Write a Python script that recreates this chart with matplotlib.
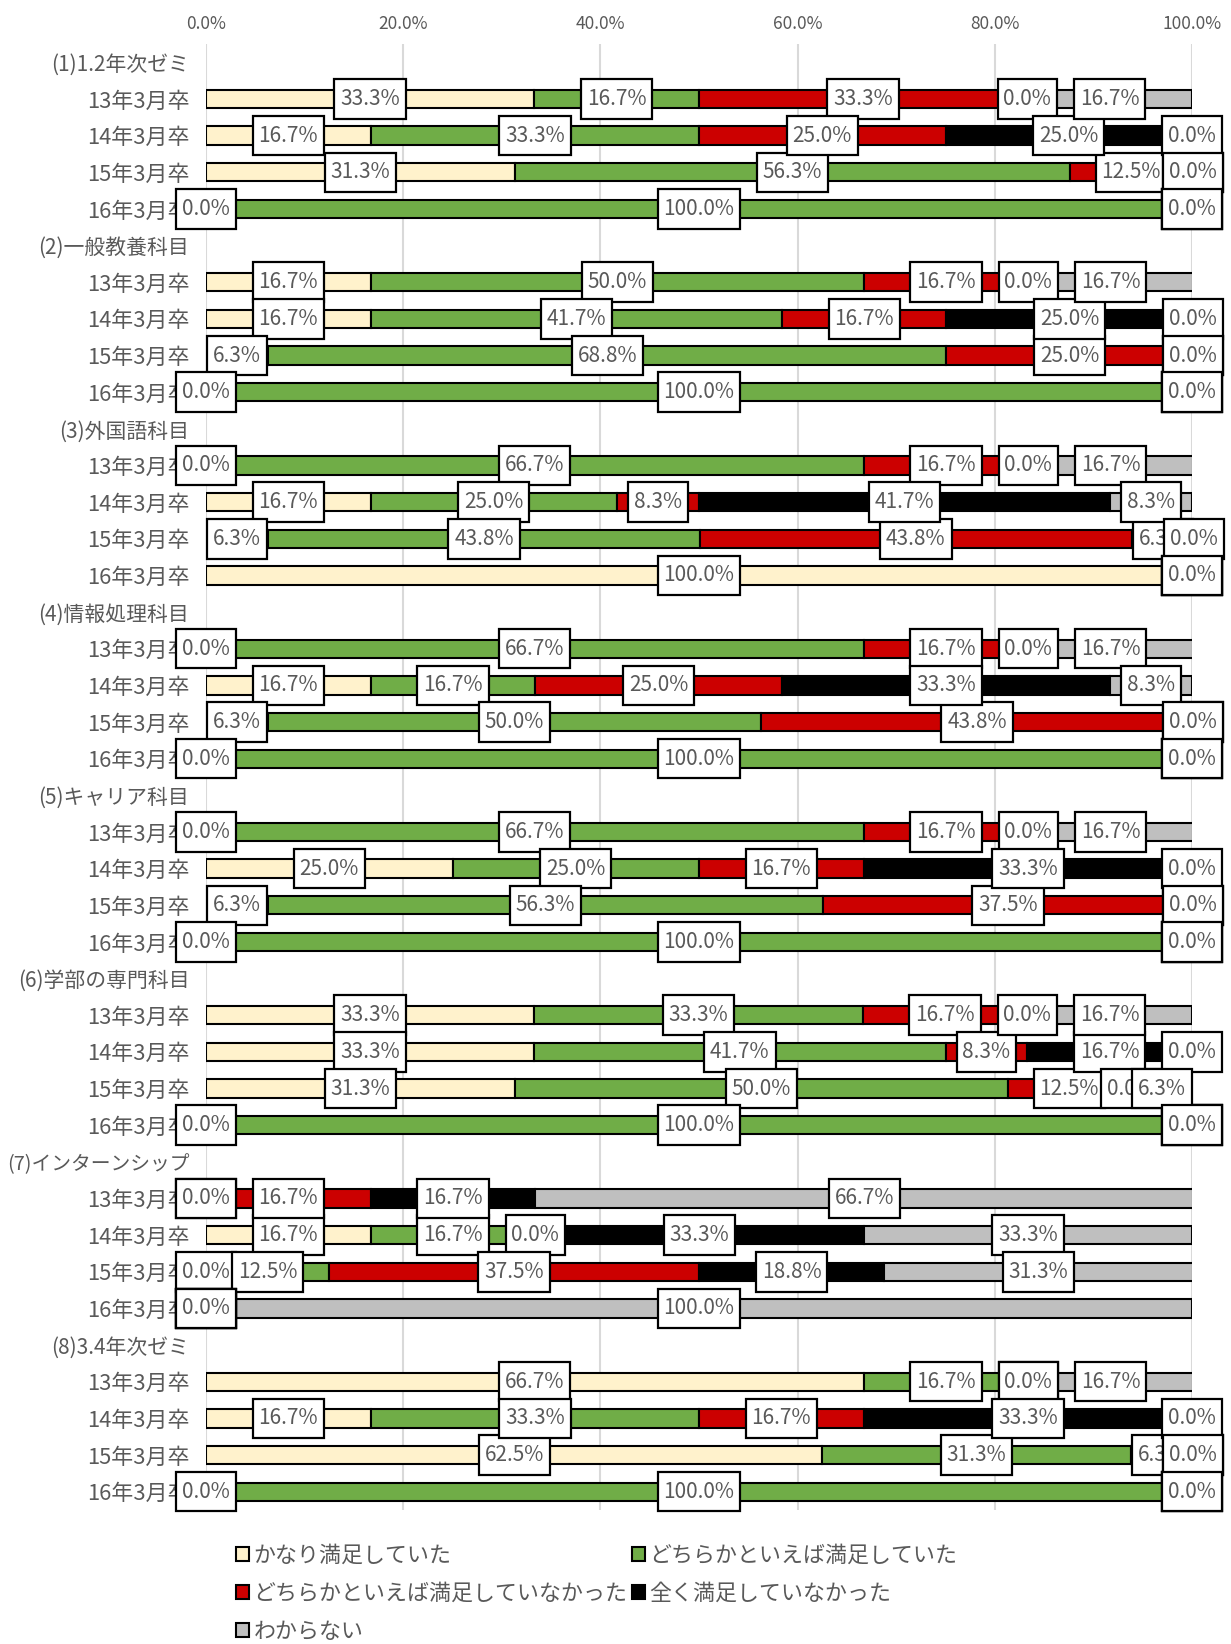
import matplotlib
matplotlib.use("Agg")
import matplotlib.pyplot as plt
from matplotlib.patches import Patch
from matplotlib.path import Path
import numpy as np

plt.rcParams['font.family'] = ['Noto Sans CJK JP', 'DejaVu Sans']

groups = ["(1)1.2年次ゼミ", "(2)一般教養科目", "(3)外国語科目", "(4)情報処理科目",
          "(5)キャリア科目", "(6)学部の専門科目", "(7)インターンシップ", "(8)3.4年次ゼミ"]
years = ["13年3月卒", "14年3月卒", "15年3月卒", "16年3月卒"]
series_names = ["かなり満足していた", "どちらかといえば満足していた",
                "どちらかといえば満足していなかった", "全く満足していなかった", "わからない"]

kanari = [33.3, 16.7, 31.3, 0.0, 16.7, 16.7, 6.3, 0.0, 0.0, 16.7, 6.3, 100.0,
          0.0, 16.7, 6.3, 0.0, 0.0, 25.0, 6.3, 0.0, 33.3, 33.3, 31.3, 0.0,
          0.0, 16.7, 0.0, 0.0, 66.7, 16.7, 62.5, 0.0]
dochira_yes = [16.7, 33.3, 56.3, 100.0, 50.0, 41.7, 68.8, 100.0, 66.7, 25.0, 43.8, 0.0,
               66.7, 16.7, 50.0, 100.0, 66.7, 25.0, 56.3, 100.0, 33.3, 41.7, 50.0, 100.0,
               0.0, 16.7, 12.5, 0.0, 16.7, 33.3, 31.3, 100.0]
dochira_no = [33.3, 25.0, 12.5, 0.0, 16.7, 16.7, 25.0, 0.0, 16.7, 8.3, 43.8, 0.0,
              16.7, 25.0, 43.8, 0.0, 16.7, 16.7, 37.5, 0.0, 16.7, 8.3, 12.5, 0.0,
              16.7, 0.0, 37.5, 0.0, 0.0, 16.7, 6.3, 0.0]
mattaku = [0.0, 25.0, 0.0, 0.0, 0.0, 25.0, 0.0, 0.0, 0.0, 41.7, 6.3, 0.0,
           0.0, 33.3, 0.0, 0.0, 0.0, 33.3, 0.0, 0.0, 0.0, 16.7, 0.0, 0.0,
           16.7, 33.3, 18.8, 0.0, 0.0, 33.3, 0.0, 0.0]
wakaranai = [16.7, 0.0, 0.0, 0.0, 16.7, 0.0, 0.0, 0.0, 16.7, 8.3, 0.0, 0.0,
             16.7, 8.3, 0.0, 0.0, 16.7, 0.0, 0.0, 0.0, 16.7, 0.0, 6.3, 0.0,
             66.7, 33.3, 31.3, 100.0, 16.7, 0.0, 0.0, 0.0]
x_ticks = [0, 20, 40, 60, 80, 100]

colors = ["#FFF2CC", "#70AD47", "#CC0000", "#000000", "#BFBFBF"]
series = [kanari, dochira_yes, dochira_no, mattaku, wakaranai]
grey_txt = "#595959"


def label_box(x0, y0, width, height, mutation_size):
    px = 0.28 * mutation_size
    py = 0.42 * mutation_size
    verts = [(x0 - px, y0 - py), (x0 + width + px, y0 - py),
             (x0 + width + px, y0 + height + py), (x0 - px, y0 + height + py),
             (x0 - px, y0 - py)]
    return Path(verts, closed=True)


# row layout: header + 4 years for each group
labels = []
is_header = []
bar_rows = []
r = 0
for g in groups:
    labels.append(g)
    is_header.append(True)
    r += 1
    for y in years:
        labels.append(y)
        is_header.append(False)
        bar_rows.append(r)
        r += 1
bar_rows = np.array(bar_rows)

fig = plt.figure(figsize=(12.31, 16.44), dpi=100)
W, H = 1231, 1644
ax = fig.add_axes([206 / W, 1 - 1510 / H, (1192 - 206) / W, (1510 - 44) / H])

left = np.zeros(len(bar_rows))
for vals, col, name in zip(series, colors, series_names):
    vals = np.array(vals)
    ax.barh(bar_rows, vals, left=left, height=0.5, color=col, edgecolor="black",
            linewidth=1.5, zorder=3, label=name)
    for yy, l, v in zip(bar_rows, left, vals):
        ax.text(l + v / 2, yy, f"{v:.1f}%", ha="center", va="center", fontsize=15,
                color=grey_txt, zorder=6, clip_on=False,
                bbox=dict(boxstyle=label_box, fc="white", ec="black", lw=1.6))
    left = left + vals

ax.set_xlim(0, 100)
ax.set_ylim(len(labels) - 0.5, -0.5)
ax.set_yticks(range(len(labels)))
ax.set_yticklabels(labels, color=grey_txt)
for tl, hdr in zip(ax.get_yticklabels(), is_header):
    tl.set_fontsize(15 if hdr else 15.8)
ax.xaxis.tick_top()
ax.set_xticks(x_ticks)
ax.set_xticklabels([f"{t:.1f}%" for t in x_ticks], fontsize=12.5, color=grey_txt)
ax.tick_params(axis="both", length=0)
ax.tick_params(axis="y", pad=12)
ax.tick_params(axis="x", pad=8)
ax.grid(axis="x", color="#D9D9D9", linewidth=1.5, zorder=0)
ax.set_axisbelow(True)
for s in ax.spines.values():
    s.set_visible(False)

# shrink any header label that would run off the left edge
fig.canvas.draw()
renderer = fig.canvas.get_renderer()
for tl in ax.get_yticklabels():
    bb = tl.get_window_extent(renderer)
    while bb.x0 < 4 and tl.get_fontsize() > 10:
        tl.set_fontsize(tl.get_fontsize() - 0.25)
        bb = tl.get_window_extent(renderer)

handles = [Patch(facecolor=c, edgecolor="black", linewidth=1.5) for c in colors]
order = [0, 2, 4, 1, 3]
fig.legend([handles[i] for i in order], [series_names[i] for i in order],
           loc="upper left", bbox_to_anchor=(236 / W, 1 - 1545 / H), ncol=2,
           frameon=False, fontsize=15.8, labelcolor=grey_txt,
           handlelength=0.6, handleheight=0.6, handletextpad=0.2,
           columnspacing=0.2, labelspacing=0.72, borderpad=0, borderaxespad=0)

fig.savefig("out.png", dpi=100)
